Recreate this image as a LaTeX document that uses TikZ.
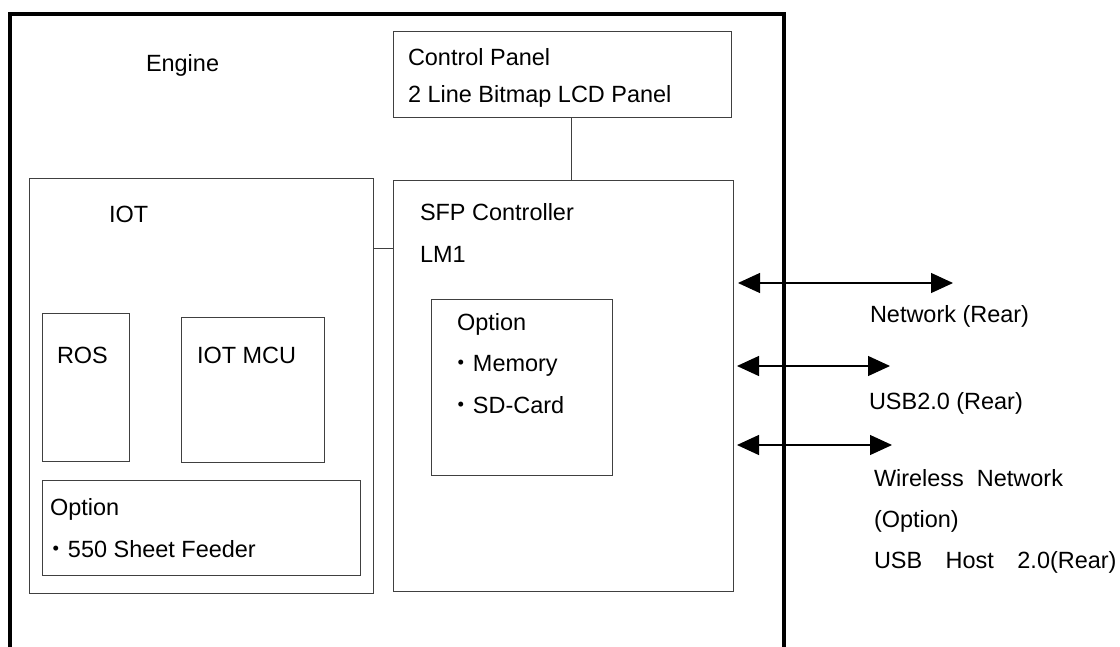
\documentclass[tikz,border=0pt]{standalone}
\usepackage{fontspec}
\setmainfont{Liberation Sans}
\newfontfamily\cjk{Noto Sans CJK JP}
\usetikzlibrary{fit,arrows.meta}
\begin{document}
\begin{tikzpicture}[x=0.75pt,y=-0.75pt,
  box/.style={draw=black!75, line width=0.75pt, inner sep=0pt, outer sep=0pt},
  lbl/.style={anchor=base west, inner sep=0pt, outer sep=0pt, font=\fontsize{17.6}{20}\selectfont},
  link/.style={draw=black!75, line width=0.75pt},
  port/.style={line width=0.9pt, {Triangle[length=16.5pt,width=15pt]}-{Triangle[length=16.5pt,width=15pt]}},
  enginebox/.style={line width=3.4pt}]
\useasboundingbox (0,0) rectangle (1120,646);
% engine outline (open at bottom)
\draw[enginebox] (10,650) |- (784,14) -- (784,650);
\node[lbl] (engine) at (146,71) {Engine};

% boxes
\node[box, fit={(393,31) (731,117)}] (cp) {};
\node[box, fit={(393,180) (733,591)}] (sfp) {};
\node[box, fit={(29,178) (373,593)}] (iot) {};
\node[box, fit={(42,313) (129,461)}] (ros) {};
\node[box, fit={(181,317) (324,462)}] (mcu) {};
\node[box, fit={(42,480) (360,575)}] (iotopt) {};
\node[box, fit={(431,299) (612,475)}] (sfpopt) {};

% texts
\node[lbl] (cpt1) at (408,65) {Control Panel};
\node[lbl] (cpt2) at (408,102) {2 Line Bitmap LCD Panel};
\node[lbl] (iott) at (109,222) {IOT};
\node[lbl] (sfpt1) at (420,220) {SFP Controller};
\node[lbl] (sfpt2) at (420,262) {LM1};
\node[lbl] (rost) at (57,363) {ROS};
\node[lbl] (mcut) at (197,363) {IOT MCU};
\node[lbl] (iopt1) at (50,515) {Option};
\node[lbl] (iopt2) at (44.5,557) {{\cjk ・}550 Sheet Feeder};
\node[lbl] (sopt1) at (457,330) {Option};
\node[lbl] (sopt2) at (449.5,371) {{\cjk ・}Memory};
\node[lbl] (sopt3) at (449.5,413) {{\cjk ・}SD-Card};

% internal connectors
\coordinate (cpx) at (571,0);
\draw[link] (cp.south -| cpx) -- (sfp.north -| cpx);
\coordinate (ly) at (0,248);
\draw[link] (iot.east |- ly) -- (sfp.west |- ly);

% external ports
\coordinate (p1l) at (738,283);
\coordinate (p1r) at (953,283);
\coordinate (p2l) at (737,366);
\coordinate (p2r) at (890,366);
\coordinate (p3l) at (737,445);
\coordinate (p3r) at (892,445);
\draw[port] (p1l) -- (p1r);
\draw[port] (p2l) -- (p2r);
\draw[port] (p3l) -- (p3r);

\node[lbl] (net) at (870,322) {Network (Rear)};
\node[lbl] (usb) at (869,409) {USB2.0 (Rear)};
\node[lbl] (wl1) at (874,486) {Wireless\ \ Network};
\node[lbl] (wl2) at (874,527) {(Option)};
\node[lbl] (wl3) at (874,568) {USB{\cjk 　}Host{\cjk 　}2.0(Rear)};
\end{tikzpicture}
\end{document}
